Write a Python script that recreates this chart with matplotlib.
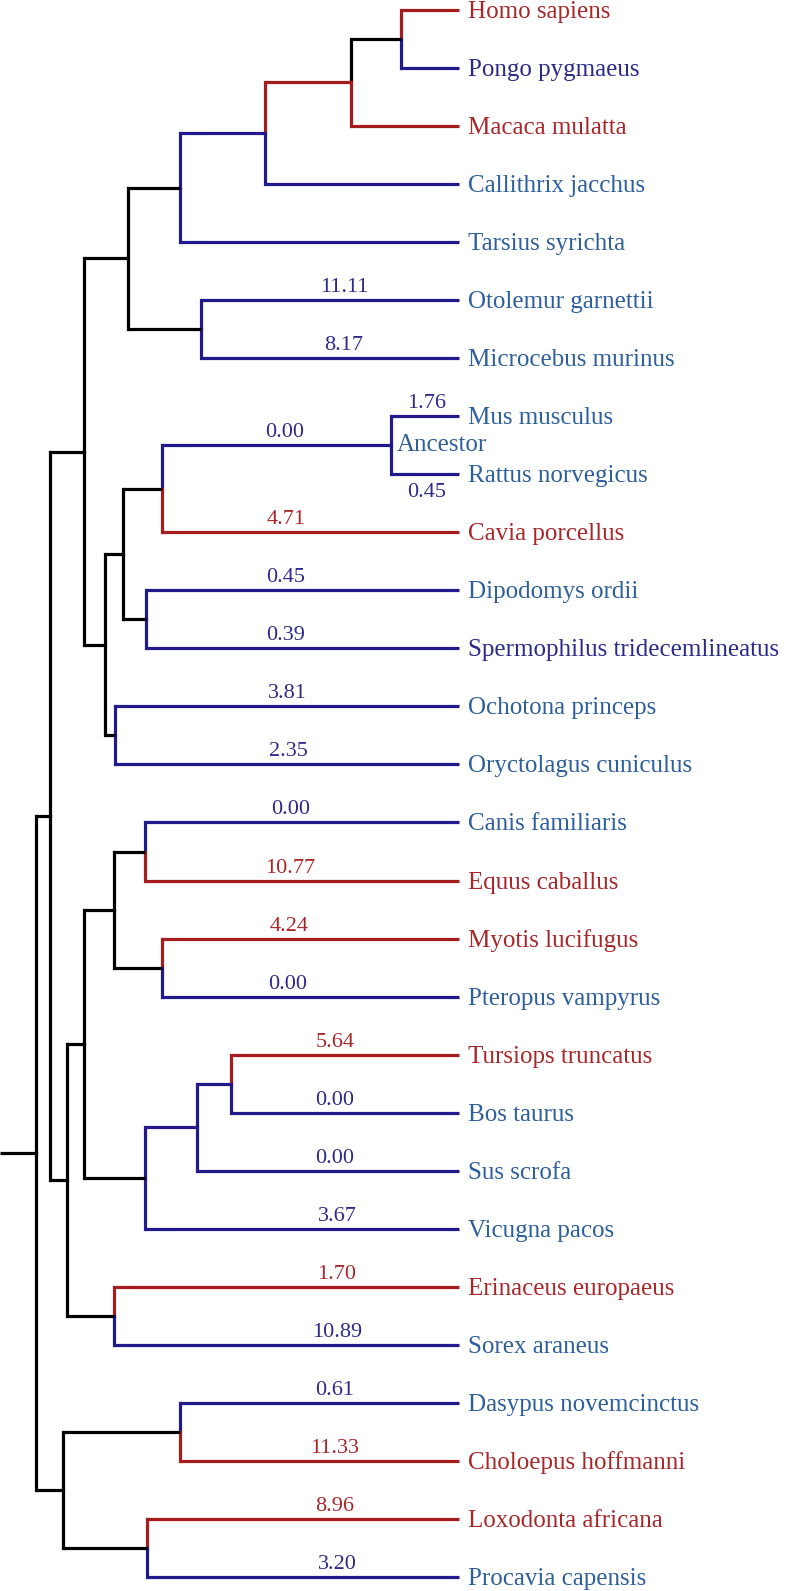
import matplotlib.pyplot as plt

plt.rcParams["font.family"] = ["Liberation Serif", "DejaVu Serif"]

# leaves top to bottom
leaves = ["Homo sapiens", "Pongo pygmaeus", "Macaca mulatta", "Callithrix jacchus",
          "Tarsius syrichta", "Otolemur garnettii", "Microcebus murinus",
          "Mus musculus", "Rattus norvegicus", "Cavia porcellus", "Dipodomys ordii",
          "Spermophilus tridecemlineatus", "Ochotona princeps", "Oryctolagus cuniculus",
          "Canis familiaris", "Equus caballus", "Myotis lucifugus", "Pteropus vampyrus",
          "Tursiops truncatus", "Bos taurus", "Sus scrofa", "Vicugna pacos",
          "Erinaceus europaeus", "Sorex araneus", "Dasypus novemcinctus",
          "Choloepus hoffmanni", "Loxodonta africana", "Procavia capensis"]
# r = red branch, b = blue branch
leaf_class = ["r", "b", "r", "b", "b", "b", "b",
              "b", "b", "r", "b", "b", "b", "b",
              "b", "r", "r", "b", "r", "b", "b", "b",
              "r", "b", "b", "r", "r", "b"]
branch_vals = [None, None, None, None, None, "11.11", "8.17",
               "1.76", "0.45", "4.71", "0.45", "0.39", "3.81", "2.35",
               "0.00", "10.77", "4.24", "0.00", "5.64", "0.00", "0.00", "3.67",
               "1.70", "10.89", "0.61", "11.33", "8.96", "3.20"]
# x of the value text (layout only)
val_x = [None, None, None, None, None, 344, 344,
         427, 427, 286, 286, 286, 287, 288,
         291, 290, 289, 288, 335, 335, 335, 337,
         337, 337, 335, 335, 335, 337]
dark_label = [1, 11]

tip_x = 459
# (name, depth x, edge colour, branch value, children)
tree = ("", 36, "k", None, [
    ("", 50, "k", None, [
        ("", 84, "k", None, [
            ("", 128, "k", None, [
                ("", 180, "k", None, [
                    ("", 265, "b", None, [
                        ("", 351, "r", None, [
                            ("", 401, "k", None, [0, 1]),
                            2]),
                        3]),
                    4]),
                ("", 201, "k", None, [5, 6])]),
            ("", 105, "k", None, [
                ("", 123, "k", None, [
                    ("", 162, "k", None, [
                        ("Ancestor", 391, "b", "0.00", [7, 8]),
                        9]),
                    ("", 146, "k", None, [10, 11])]),
                ("", 115, "k", None, [12, 13])])]),
        ("", 67, "k", None, [
            ("", 84, "k", None, [
                ("", 114, "k", None, [
                    ("", 145, "k", None, [14, 15]),
                    ("", 162, "k", None, [16, 17])]),
                ("", 145, "k", None, [
                    ("", 197, "b", None, [
                        ("", 231, "b", None, [18, 19]),
                        20]),
                    21])]),
            ("", 114, "k", None, [22, 23])])]),
    ("", 63, "k", None, [
        ("", 180, "k", None, [24, 25]),
        ("", 147, "k", None, [26, 27])])])

line_col = {"r": "#a51c1c", "b": "#211a8c", "k": "black"}
text_col = {"r": "#a8282a", "b": "#2d5f9c"}
val_col = {"r": "#a8282a", "b": "#2c2a8c"}
lw = 2.3

fig = plt.figure(figsize=(7.87, 15.91), dpi=100)
ax = fig.add_axes([0, 0, 1, 1])
ax.set_xlim(0, 787)
ax.set_ylim(27.24, -0.17)
ax.axis("off")


def draw(node, parent_x):
    # returns (y, colour key)
    if isinstance(node, int):
        c = leaf_class[node]
        y = node
        ax.plot([parent_x, tip_x], [y, y], color=line_col[c], lw=lw, solid_capstyle="butt")
        ax.annotate(leaves[node], (tip_x, y), xytext=(9, -8), textcoords="offset pixels",
                    ha="left", va="baseline", fontsize=18,
                    color="#2a2a8a" if node in dark_label else text_col[c])
        if branch_vals[node] is not None:
            below = node == 8
            ax.annotate(branch_vals[node], (val_x[node], y),
                        xytext=(0, -18 if below else 8),
                        textcoords="offset pixels", ha="center",
                        va="center" if below else "baseline",
                        fontsize=16, color=val_col[c])
        return y, c
    name, x, c, val, kids = node
    res = [draw(k, x) for k in kids]
    ys = [r[0] for r in res]
    y = (ys[0] + ys[-1]) / 2
    # vertical connector split by child colour
    ax.plot([x, x], [ys[0], y], color=line_col[res[0][1]], lw=lw, solid_capstyle="projecting")
    ax.plot([x, x], [y, ys[-1]], color=line_col[res[-1][1]], lw=lw, solid_capstyle="projecting")
    ax.plot([parent_x, x], [y, y], color=line_col[c], lw=lw, solid_capstyle="butt")
    if name:
        ax.annotate(name, (x, y), xytext=(6, 0), textcoords="offset pixels",
                    ha="left", va="center", fontsize=18, color=text_col["b"])
    if val is not None:
        ax.annotate(val, (285, y), xytext=(0, 8), textcoords="offset pixels",
                    ha="center", va="baseline", fontsize=16, color=val_col[c])
    return y, c


draw(tree, 0)

plt.savefig("out.png", dpi=100)
